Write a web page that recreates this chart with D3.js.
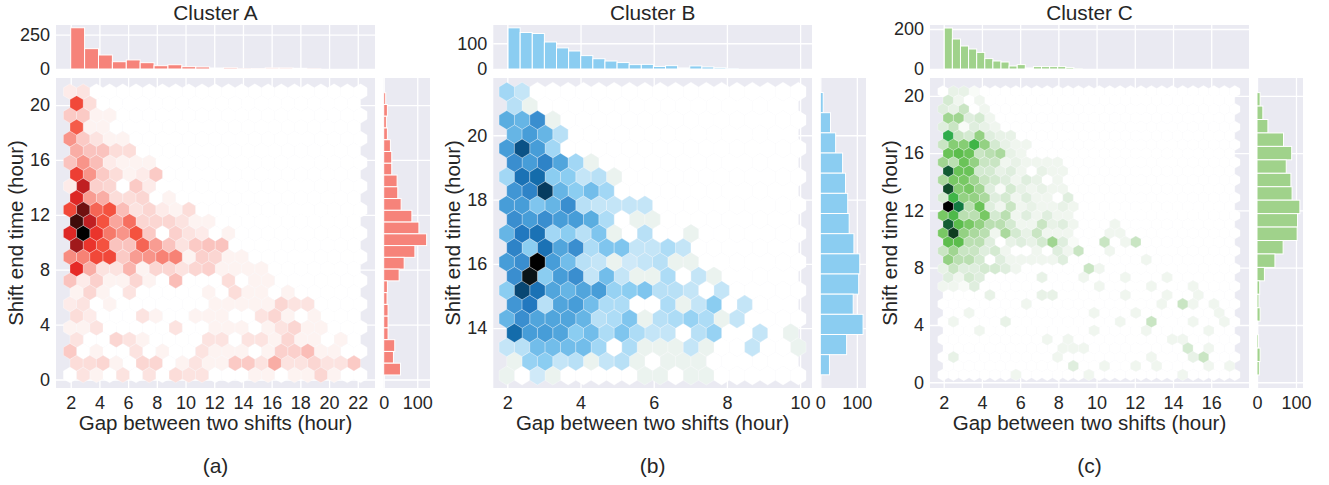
<!DOCTYPE html>
<html lang="en">
<head>
<meta charset="UTF-8">
<title>Clusters</title>
<script src="https://d3js.org/d3.v7.min.js"></script>
<style>
  html, body { margin: 0; background: #fff; }
  text { font-family: "Liberation Sans", Arial, sans-serif; fill: #262626; }
</style>
</head>
<body>
<svg width="1329" height="485"></svg>
<script>
// hex counts per row, top row first; rows alternate between the two hex columns offsets
const hexA = [
  [1.5,2],
  [11.5,2.5],
  [4,4,1,1],
  [10.5,1,1],
  [7.5,4,2,1,1],
  [6,4.5,4.5,2.5,2.5],
  [4.5,7.5,5,1.5,1,1,1],
  [12,7.5,4,2.5,1,1.5,4],
  [1.5,15,3.5,3,0,4,1.5],
  [13.5,7,6,2.5,2.5,3,0,1],
  [11.5,17.5,10,11,5,2,3,1.5,1,2.5],
  [19,15,11,6.5,9.5,3,3,3,2,1,1],
  [13.5,20,12.5,9,7.5,11,4,0,3.5,2,1.5,0,1],
  [16,12.5,11,4.5,4.5,10,7,4.5,2,4,4.5,4.5],
  [8,8.5,11.5,11.5,4,7,7.5,8.5,8.5,1,3.5,3,1,1],
  [13,6,2,2,5.5,1,3,3,2,3,3.5,1,1,1,1],
  [4.5,1.5,3.5,1,1,3,1,0,5,0,0,0,2.5,0,1,1],
  [1,3,1,0,2,0,0,0,0,0,1,0,2.5,1,1,0,1],
  [1.5,2,0,1,0,0,0,0,0,0,0,1,1,1,1,1,3,2,2],
  [2.5,1.5,0,0,0,2,1,0,0,1,1,1,0,0,2,3,1,0,1],
  [1,1,2,0,0,0,0,0,2,0,0,1,1,1,0,1,2,3,1,1],
  [2,0,0,3,2,1,0,0,0,0,2,2,0,2,2,1,3,1,1,0,1],
  [4,0,1,0,0,2,0,1,0,0,2,1,1,1,0,1,3.5,3.5,5,1,1],
  [2.5,2.5,3,1,0,3,3,0,1,2,1,1,4,4,2,6,2,2,3,2,2,4],
  [0,2,1,0,2,0,2,0,2.5,2,2,0,0,0,1,1,0,1,1,3,1,0,0]
];
const hexB = [
  [4,2.5],
  [3,1],
  [7,6.5,9,1],
  [6.5,8,6.5,3],
  [8,12,8,4],
  [9,8,9.5,7.5,4,1],
  [4,10.5,11,5,5,2.5,3,1],
  [8.5,9.5,13,6.5,5,6,4],
  [8,8,5.5,6.5,9,3,2.5,2.5,2.5,2.5],
  [9,8,9,8,8,7,3.5,0,1,1],
  [6.5,10,10.5,4,5,3,5.5,1,0,3,0,0,1],
  [9.5,5,10.5,7.5,9,3.5,5.5,5.5,2.5,2.5,3.5,2.5],
  [8,9,15,8,6,3,2.5,1,2,2.5,3,1,1],
  [9,14.5,5,8,9,2.5,6,2.5,1,1,3.5,0,2.5,1],
  [5,12.5,10.5,7.5,6.5,7.5,8,4.5,5,5.5,3,3,2.5,0,2.5],
  [8.5,10,3,7.5,8,6,3.5,3.5,0,0,3.5,1,2.5,5,0,2.5],
  [6.5,9,7.5,7.5,7.5,6.5,3,3.5,5.5,1,3,3.5,4.5,3.5,1,2.5],
  [11,8,8,7.5,5,6,3.5,5.5,3.5,2.5,2.5,0,3,4.5,0,0,2.5,0,1],
  [2.5,3,6,6,6,6,4,0,3.5,1,1,1,2.5,1,0,0,2.5,0,0,1],
  [1,4.5,5,2.5,3,1,2.5,3,1,0,1,1,1],
  [1,0,2,1,0,0,0,0,0,1,1,0,1,1]
];
const hexC = [
  [0,1.5,1.5,0.5],
  [2.5,1,0,1],
  [2,1.5,3,0,1],
  [4.5,4.5,2,2.5,1],
  [2,3,0.5,2,1.5,1],
  [8.5,3,2.5,5,2,1.5,1.5],
  [3,5.5,5.5,8,5,2.5,1.5,1,1],
  [6.5,7,6.5,3,3.5,4,1.5,1],
  [4.5,3.5,6.5,5,3,3,1,1.5,1,1,1,1],
  [11,6.5,6.5,2.5,2.5,1.5,2,1,0,1.5,1,1],
  [4,6,6,4.5,3,2.5,2,1,2,1.5,0,1],
  [11.5,5.5,6,4.5,2,0.5,2.5,1.5,1,1.5,1,1],
  [2.5,8,5,5,4,2,2.5,1,2,1,1,0,2],
  [13,10,3.5,6.5,2,1,3,1,1.5,1,1,1.5,1],
  [6,7.5,3.5,3.5,6,2.5,3.5,1,2,1,2,1,1],
  [11,7,6,5,3.5,3.5,2.5,1,1,3,1.5,2,1,0,0,0,1],
  [6,12,5,4,3.5,1,4,2.5,1.5,3,1,1,1,0,0,0,1,1],
  [7,7,3.5,3.5,2,0,1.5,2,1.5,2.5,4.5,2,0.5,0,0,3,0,1,3],
  [3,4.5,3,3,2,2.5,1,0,0,1,0,2,1,3,0,0,1],
  [5,3.5,3.5,2.5,0,2,1,1,1,1,1,2,0,0,0,0,0,0,0,1],
  [1.5,3,2,2,2.5,2.5,2,1,0,0,0,0,0,0,3,1],
  [2,1,2.5,2,0,0,0,0,0,1.5,0,0,0,1,0,0,0,1,0,0,0,1],
  [1,1,0.5,2,0,0,0,0,0,0,0,0,0,0,0,1,0,0,0,0,1,0,0,0,1],
  [0,0,0,0,1.5,0,0,0,0,1.5,1.5,0,0,0,0,0,0,1,0,0,0,1,0,0,1],
  [0,0,0,0,0,0,0,0,1,0,0,0,0,0,0,0,0,0,0,0,0,1,0,3,1,0,1],
  [0,0,1,0,0,0,0,0,0,0,0,0,0,0,1,0,0,0,1,0,0,0,0,0,0,0,1],
  [0,1,0,0,0,0,1.5,0,0,0,0,0,0,0,0,0,0,1,0,0,3,0,0,0,1,0,0,1],
  [0,0,0,1,0,0,0,0,0,0,0,0,0,0,1,0,0,0,0,1,0,0,0,0,0,1],
  [0,0,0,0,0,0,0,0,0,0,1,0,1,0,0,0,0,0,0,0,0,0,1,1],
  [0,0,0,0,0,0,0,0,0,0,0,1,1,1,0,0,0,0,0,0,0,0,0,2.5,0,1],
  [0,1.5,0,0,0,0,0,0,0,0,0,1,0,0,0,0,0,0,0,0,1,0,0,0,1.5,3],
  [0,0,0,0,0,0,0,0,0,0,0,0,2,0,0,1,0,0,1,0,1,0,0,0,0,1,0,1],
  [0,0,0,0,0,0,0,1,0,0,0,0,0,0,1,0,0,0,0,0,0,0,0,1]
];

// marginal histograms
const topHistA = [300,148,102,53,66,46,24,31,17,15,7,9,2,3,8,8,5,1];
const topHistB = [160,142,138,105,82,70,52,40,31,25,17,18,10,13,4,12,8,5,1];
const topHistC = [205,150,115,100,83,52,40,35,15,22,5,12,12,12,12,7,1];
const sideHistA = [6,11,8,11,20,24,24,40,42,52,84,105,128,93,61,46,11,10,13,13,13,33,29,50];
const sideHistB = [8,28,42,61,69,75,79,92,108,105,90,117,72,25];
const sideHistC = [8,15,28,68,89,75,87,90,110,104,103,67,46,19,7,5,8,2,4,8,6];

// ticks
const xTicksA = [2,4,6,8,10,12,14,16,18,20,22];
const yTicksA = [0,4,8,12,16,20];
const xTicksB = [2,4,6,8,10];
const yTicksB = [14,16,18,20];
const xTicksC = [2,4,6,8,10,12,14,16];
const yTicksC = [0,4,8,12,16,20];

// colour ramps, level -> colour
const rampA = [[0,"#ffffff"],[1,"#fdf3f1"],[2,"#fce3e0"],[5,"#fabdb7"],[8,"#f78c80"],[11,"#f4523f"],[13,"#e62a26"],[15,"#c01f22"],[17,"#801313"],[19,"#3e0c0a"],[20,"#000000"]];
const rampB = [[0,"#ffffff"],[1,"#ebf3ef"],[2,"#cfe9f8"],[3,"#b8e0f6"],[4,"#a2d7f5"],[5,"#8bcdf1"],[6,"#72bdea"],[7,"#5aade0"],[8,"#479dd8"],[9,"#3a8ecf"],[10,"#2278bf"],[11,"#146cab"],[12,"#0b5286"],[13,"#063c60"],[14.5,"#0a1418"],[15,"#000000"]];
const rampC = [[0,"#ffffff"],[1,"#f0f6ef"],[2,"#dfeede"],[3,"#c9e5c3"],[4,"#abd99e"],[5,"#94d183"],[6,"#78c864"],[7,"#5cbd4c"],[8,"#3fb547"],[9,"#1fa24f"],[10,"#117a41"],[11,"#125c33"],[12,"#0f3d20"],[13,"#000000"]];

const panels = [
  { title: "Cluster A", caption: "(a)", hex: hexA, ramp: rampA, top: topHistA, side: sideHistA, color: "#f6837a",
    xTicks: xTicksA, yTicks: yTicksA, topTicks: [0,250], sideTicks: [0,100],
    left: 56, right: 375, sideLeft: 383.7, sideRight: 430,
    xDomain: [0.976,23.2], yDomain: [-0.62,21.97], topMax: 320, sideMax: 138,
    hx0: 1.951, hdx: 0.92, hy0: 20.97, hdy: 0.86, bx0: 2, bw: 0.968, by0: 0.33, bh: 0.857 },
  { title: "Cluster B", caption: "(b)", hex: hexB, ramp: rampB, top: topHistB, side: sideHistB, color: "#8bcdf1",
    xTicks: xTicksB, yTicks: yTicksB, topTicks: [0,100], sideTicks: [0,100],
    left: 493.3, right: 812, sideLeft: 820.3, sideRight: 866,
    xDomain: [1.617,10.325], yDomain: [12.14,21.78], topMax: 171, sideMax: 125,
    hx0: 1.984, hdx: 0.4194, hy0: 21.355, hdy: 0.4414, bx0: 2.02, bw: 0.331, by0: 12.55, bh: 0.627 },
  { title: "Cluster C", caption: "(c)", hex: hexC, ramp: rampC, top: topHistC, side: sideHistC, color: "#a0d28b",
    xTicks: xTicksC, yTicks: yTicksC, topTicks: [0,200], sideTicks: [0,100],
    left: 930, right: 1249, sideLeft: 1257, sideRight: 1303,
    xDomain: [1.283,17.976], yDomain: [-0.4,21.25], topMax: 220, sideMax: 118,
    hx0: 1.963, hdx: 0.5453, hy0: 20.31, hdy: 0.6184, bx0: 2.03, bw: 0.424, by0: 0.51, bh: 0.939 }
];

const svg = d3.select("svg");
const topY = [69, 25], mainY = [388, 78];
const tickSize = 18;

function panelRect(g, x0, x1, y0, y1) {
  g.append("rect").attr("x", x0).attr("y", y1).attr("width", x1 - x0).attr("height", y0 - y1).attr("fill", "#eaeaf2");
}

// axis with white gridlines and no domain line
function styleAxis(sel, size) {
  sel.select(".domain").remove();
  sel.selectAll(".tick line").attr("stroke", "#fff").attr("stroke-width", 1.3);
  sel.selectAll(".tick text").style("font-size", size + "px").attr("fill", "#262626");
}

panels.forEach(p => {
  const g = svg.append("g");
  const x = d3.scaleLinear().domain(p.xDomain).range([p.left, p.right]);
  const y = d3.scaleLinear().domain(p.yDomain).range(mainY);
  const yTop = d3.scaleLinear().domain([0, p.topMax]).range(topY);
  const xSide = d3.scaleLinear().domain([0, p.sideMax]).range([p.sideLeft, p.sideRight]);
  const color = d3.scaleLinear().domain(p.ramp.map(d => d[0])).range(p.ramp.map(d => d[1])).clamp(true);

  panelRect(g, p.left, p.right, topY[0], topY[1]);
  panelRect(g, p.left, p.right, mainY[0], mainY[1]);
  panelRect(g, p.sideLeft, p.sideRight, mainY[0], mainY[1]);

  // grid + axes, main panel
  g.append("g").attr("transform", `translate(0,${mainY[0]})`)
    .call(d3.axisBottom(x).tickValues(p.xTicks).tickSize(mainY[0] - mainY[1]).tickPadding(0))
    .call(s => styleAxis(s, tickSize))
    .call(s => s.selectAll(".tick line").attr("y2", -(mainY[0] - mainY[1])))
    .call(s => s.selectAll(".tick text").attr("y", 8).attr("dy", "0.71em"));
  g.append("g").attr("transform", `translate(${p.left},0)`)
    .call(d3.axisRight(y).tickValues(p.yTicks).tickSize(p.right - p.left))
    .call(s => styleAxis(s, tickSize))
    .call(s => s.selectAll(".tick text").attr("x", -6).attr("text-anchor", "end"));

  // top histogram grid
  g.append("g").attr("transform", `translate(0,${topY[0]})`)
    .call(d3.axisBottom(x).tickValues(p.xTicks).tickFormat("").tickSize(0))
    .call(s => styleAxis(s, tickSize))
    .call(s => s.selectAll(".tick line").attr("y2", -(topY[0] - topY[1])));
  g.append("g").attr("transform", `translate(${p.left},0)`)
    .call(d3.axisRight(yTop).tickValues(p.topTicks).tickSize(p.right - p.left))
    .call(s => styleAxis(s, tickSize))
    .call(s => s.selectAll(".tick text").attr("x", -6).attr("text-anchor", "end"));

  // side histogram grid
  g.append("g").attr("transform", `translate(0,${mainY[0]})`)
    .call(d3.axisBottom(xSide).tickValues(p.sideTicks).tickSize(0))
    .call(s => styleAxis(s, tickSize))
    .call(s => s.selectAll(".tick line").attr("y2", -(mainY[0] - mainY[1])))
    .call(s => s.selectAll(".tick text").attr("y", 8).attr("dy", "0.71em"));
  g.append("g").attr("transform", `translate(${p.sideLeft},0)`)
    .call(d3.axisRight(y).tickValues(p.yTicks).tickFormat("").tickSize(p.sideRight - p.sideLeft))
    .call(s => styleAxis(s, tickSize));

  // hexes: every slot of the grid is drawn, empty ones come out white
  const nx = Math.round((p.xDomain[1] - p.hx0 - (p.xDomain[1] - p.xDomain[0]) * 0.045) / p.hdx);
  const cells = [];
  p.hex.forEach((row, r) => {
    const n = r % 2 === 0 ? nx + 1 : nx;
    for (let k = 0; k < n; k++) {
      cells.push({
        cx: p.hx0 + (k + (r % 2 === 0 ? 0 : 0.5)) * p.hdx,
        cy: p.hy0 - r * p.hdy,
        v: row[k] || 0
      });
    }
  });
  // empty hexes first so their white edge does not eat into the coloured ones
  cells.sort((a, b) => a.v - b.v);
  const hexPath = d => {
    const l = x(d.cx - p.hdx / 2), c = x(d.cx), rr = x(d.cx + p.hdx / 2);
    const t = y(d.cy + p.hdy * 2 / 3), u = y(d.cy + p.hdy / 3), v = y(d.cy - p.hdy / 3), b = y(d.cy - p.hdy * 2 / 3);
    return `M${c},${t}L${rr},${u}L${rr},${v}L${c},${b}L${l},${v}L${l},${u}Z`;
  };
  g.append("g").selectAll("path").data(cells).join("path")
    .attr("d", hexPath)
    .attr("fill", d => color(d.v))
    .attr("stroke", "#fff")
    .attr("stroke-width", 0.3);

  // top histogram
  g.append("g").selectAll("rect").data(p.top).join("rect")
    .attr("x", (d, i) => x(p.bx0 + i * p.bw))
    .attr("width", x(p.bx0 + p.bw) - x(p.bx0))
    .attr("y", d => yTop(d))
    .attr("height", d => yTop(0) - yTop(d))
    .attr("fill", p.color).attr("stroke", "#fff").attr("stroke-width", 1);

  // side histogram, first value is the top bar
  const nSide = p.side.length;
  g.append("g").selectAll("rect").data(p.side).join("rect")
    .attr("x", xSide(0))
    .attr("width", d => xSide(d) - xSide(0))
    .attr("y", (d, i) => y(p.by0 + (nSide - i) * p.bh))
    .attr("height", y(p.by0) - y(p.by0 + p.bh))
    .attr("fill", p.color).attr("stroke", "#fff").attr("stroke-width", 1);

  // texts
  const mid = (p.left + p.right) / 2;
  g.append("text").attr("x", mid).attr("y", 20).attr("text-anchor", "middle").style("font-size", "20.8px").text(p.title);
  g.append("text").attr("x", mid).attr("y", 430).attr("text-anchor", "middle").style("font-size", "20.5px").text("Gap between two shifts (hour)");
  g.append("text").attr("x", mid).attr("y", 473).attr("text-anchor", "middle").style("font-size", "21px").text(p.caption);
  g.append("text").attr("transform", `translate(${p.left - 33},233) rotate(-90)`).attr("text-anchor", "middle").style("font-size", "20.5px").text("Shift end time (hour)");
});
</script>
</body>
</html>
